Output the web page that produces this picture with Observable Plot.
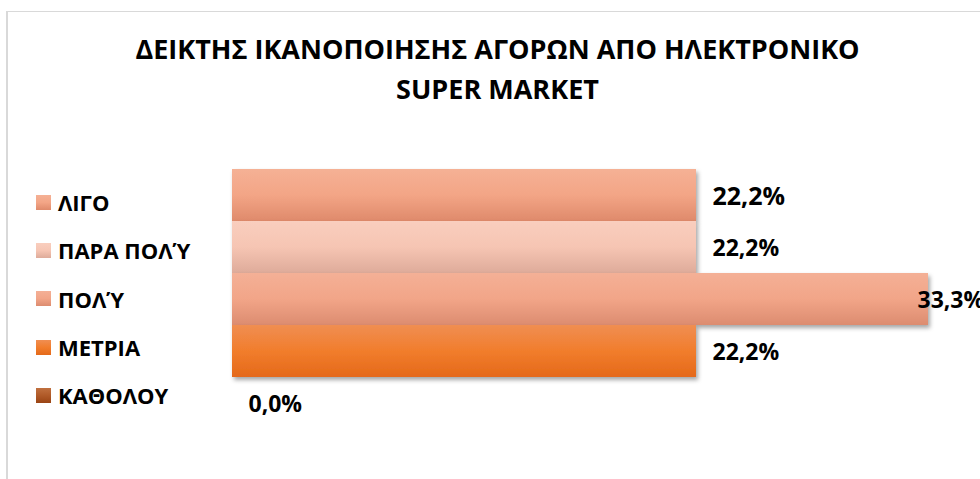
<!DOCTYPE html>
<html>
<head>
<meta charset="utf-8">
<script src="https://cdn.jsdelivr.net/npm/d3@7"></script>
<script src="https://cdn.jsdelivr.net/npm/@observablehq/plot@0.6"></script>
<style>
  html, body { margin: 0; padding: 0; background: #fff; overflow: hidden; }
  #wrap { position: relative; width: 980px; height: 479px; overflow: hidden; font-family: "Open Sans", sans-serif; }
  #frame { position: absolute; left: 6px; top: 11px; width: 1000px; height: 500px; border-left: 2px solid #d9d9d9; border-top: 1px solid #d9d9d9; }
  #title { position: absolute; left: 0; width: 995px; top: 29px; text-align: center; font-weight: 700; font-size: 27px; line-height: 40px; color: #000; }
  #legend { position: absolute; left: 36px; top: 178px; }
  .row { display: flex; align-items: center; height: 48.3px; }
  .sw { width: 15px; height: 15px; margin-right: 7px; }
  .lab { font-weight: 700; font-size: 22px; line-height: 22px; color: #000; white-space: nowrap; }
  #chart { position: absolute; left: 0; top: 0; }
</style>
</head>
<body>
<div id="wrap">
  <div id="frame"></div>
  <div id="chart"></div>
  <div id="title"></div>
  <div id="legend"></div>
</div>
<script>
// ---- data ----
const titleLines = ["ΔΕΙΚΤΗΣ ΙΚΑΝΟΠΟΙΗΣΗΣ ΑΓΟΡΩΝ ΑΠΟ ΗΛΕΚΤΡΟΝΙΚΟ", "SUPER MARKET"];
const categories = ["ΛΙΓΟ", "ΠΑΡΑ ΠΟΛΎ", "ΠΟΛΎ", "ΜΕΤΡΙΑ", "ΚΑΘΟΛΟΥ"];
const values = [22.2, 22.2, 33.3, 22.2, 0.0];
const valueLabels = ["22,2%", "22,2%", "33,3%", "22,2%", "0,0%"];
// gradient colours (top, middle, bottom) per category
const gradTop = ["#f5b195", "#f9cebe", "#f4b096", "#f08e52", "#c0703f"];
const gradMid = ["#f3a586", "#f6c5b3", "#f2a588", "#f17d2c", "#b05a28"];
const gradBot = ["#df8a6b", "#deab9a", "#dc8c70", "#e4691a", "#9a4414"];

const data = categories.map((c, i) => ({cat: c, value: values[i], label: valueLabels[i], grad: `url(#grad${i})`}));

// title
document.getElementById("title").innerHTML = titleLines.map(t => `<div>${t}</div>`).join("");

// legend
const legend = document.getElementById("legend");
categories.forEach((c, i) => {
  const row = document.createElement("div");
  row.className = "row";
  row.innerHTML = `<div class="sw" style="background: linear-gradient(to bottom, ${gradTop[i]}, ${gradMid[i]} 50%, ${gradBot[i]})"></div><div class="lab">${c}</div>`;
  legend.appendChild(row);
});

const textOpts = {x: "value", y: "cat", text: "label", textAnchor: "start", fontWeight: "bold", fill: "#000", dy: 1};

const plot = Plot.plot({
  width: 980,
  height: 479,
  marginLeft: 232,
  marginRight: 52,
  marginTop: 168,
  marginBottom: 49,
  x: {domain: [0, 33.3], axis: null},
  y: {domain: categories, axis: null, padding: 0},
  color: {type: "identity"},
  style: {fontFamily: "'Open Sans', sans-serif", background: "transparent", overflow: "visible"},
  marks: [
    Plot.barX(data, {x: "value", y: "cat", fill: "grad"}),
    Plot.text(data.filter((d, i) => i === 0), {...textOpts, dx: 16, fontSize: 25}),
    Plot.text(data.filter((d, i) => i !== 0 && i !== 2), {...textOpts, dx: 16, fontSize: 23}),
    Plot.text(data.filter((d, i) => i === 2), {...textOpts, dx: -11, fontSize: 23})
  ]
});

// gradients and shadow
const svg = d3.select(plot);
const defs = svg.insert("defs", ":first-child");
categories.forEach((c, i) => {
  const g = defs.append("linearGradient").attr("id", `grad${i}`).attr("x1", 0).attr("y1", 0).attr("x2", 0).attr("y2", 1);
  g.append("stop").attr("offset", "0%").attr("stop-color", gradTop[i]);
  g.append("stop").attr("offset", "50%").attr("stop-color", gradMid[i]);
  g.append("stop").attr("offset", "100%").attr("stop-color", gradBot[i]);
});
const f = defs.append("filter").attr("id", "shadow").attr("x", "-5%").attr("y", "-20%").attr("width", "115%").attr("height", "160%");
f.append("feDropShadow").attr("dx", 2).attr("dy", 3).attr("stdDeviation", 2.2).attr("flood-color", "#000").attr("flood-opacity", 0.35);
svg.selectAll('g[aria-label="bar"] rect').attr("filter", "url(#shadow)");

document.getElementById("chart").appendChild(plot);
</script>
</body>
</html>
